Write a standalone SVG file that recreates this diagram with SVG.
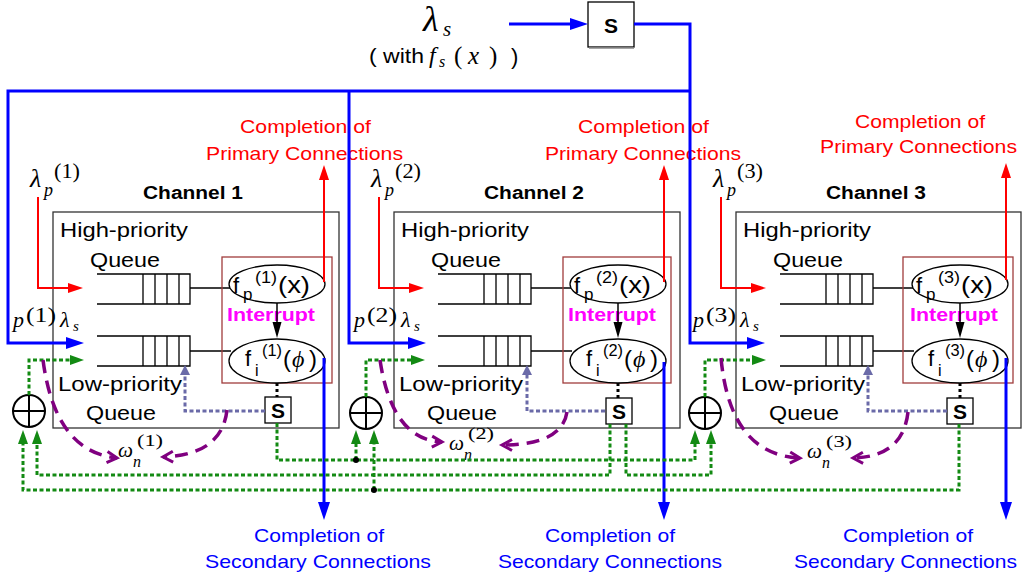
<svg xmlns="http://www.w3.org/2000/svg" width="1025" height="581" viewBox="0 0 1025 581">
<style>
.sans{font-family:"Liberation Sans",Arial,sans-serif}
.math{font-family:"Liberation Serif","DejaVu Serif",serif;font-style:italic}
.rm{font-family:"Liberation Serif","DejaVu Serif",serif}
.b{font-weight:bold}
.lbl{font-size:20px;fill:#000}
.cr{font-size:19px;fill:#ff0000}
.cb{font-size:19px;fill:#0000ff}
.chbox{fill:none;stroke:#333;stroke-width:1.3}
.srv{fill:none;stroke:#a03c3c;stroke-width:1.3}
.ell{fill:#fff;stroke:#000;stroke-width:1.3}
.q{fill:none;stroke:#000;stroke-width:1.3}
.sbox{fill:#fff;stroke:#000;stroke-width:1.3}
.bl{fill:none;stroke:#0000ff;stroke-width:3}
.rd{fill:none;stroke:#ff0000;stroke-width:2}
.gr{fill:none;stroke:#138a13;stroke-width:3;stroke-dasharray:4 2.5}
.sl{fill:none;stroke:#6a6aa8;stroke-width:3;stroke-dasharray:4 2.5}
.pu{fill:none;stroke:#800080;stroke-width:3.5;stroke-dasharray:13 8}
.bk{fill:none;stroke:#000;stroke-width:1.5}
.bkd{fill:none;stroke:#000;stroke-width:3;stroke-dasharray:3 3}
.intr{font-size:18px;font-weight:bold;fill:#ff00ff}
</style>
<defs>
<marker id="ab" markerUnits="userSpaceOnUse" markerWidth="18" markerHeight="12" refX="0" refY="6" orient="auto" overflow="visible"><path d="M0,0 L18,6 L0,12 z" fill="#0000ff"/></marker>
<marker id="ar" markerUnits="userSpaceOnUse" markerWidth="15" markerHeight="10" refX="0" refY="5" orient="auto" overflow="visible"><path d="M0,0 L15,5 L0,10 z" fill="#ff0000"/></marker>
<marker id="ag" markerUnits="userSpaceOnUse" markerWidth="14" markerHeight="10" refX="0" refY="5" orient="auto" overflow="visible"><path d="M0,0 L14,5 L0,10 z" fill="#138a13"/></marker>
<marker id="as" markerUnits="userSpaceOnUse" markerWidth="10" markerHeight="10" refX="0" refY="5" orient="auto" overflow="visible"><path d="M0,0 L10,5 L0,10 z" fill="#6a6aa8"/></marker>
<marker id="ak" markerUnits="userSpaceOnUse" markerWidth="16" markerHeight="10" refX="0" refY="5" orient="auto" overflow="visible"><path d="M0,0.5 L16,5 L0,9.5 z" fill="#000"/></marker>
<marker id="ap" markerUnits="userSpaceOnUse" markerWidth="14" markerHeight="14" refX="11" refY="6" orient="auto" overflow="visible"><path d="M1,0.5 L11,6 L1,11.5" fill="none" stroke="#800080" stroke-width="3" stroke-dasharray="none"/></marker>
</defs>
<rect width="1025" height="581" fill="#fff"/>

<!-- Source -->
<g id="source">
<text class="math" x="423" y="31" font-size="36">λ</text>
<text class="math" x="443" y="36" font-size="21">s</text>
<text class="sans" x="369" y="63" font-size="21" textLength="55" lengthAdjust="spacingAndGlyphs">( with</text>
<text class="math" x="429" y="63" font-size="24">f</text>
<text class="math" x="439" y="67" font-size="16">s</text>
<text class="rm" x="454" y="64" font-size="25">(</text>
<text class="math" x="468" y="64" font-size="25">x</text>
<text class="rm" x="489" y="64" font-size="25">)</text>
<text class="sans" x="511" y="64" font-size="22">)</text>
</g>
<g id="splitter">
<rect class="sbox" x="588" y="2" width="46" height="45"/>
<line x1="589" y1="48" x2="634" y2="48" stroke="#888" stroke-width="1.5"/>
<text class="sans b" x="611" y="33" font-size="21" text-anchor="middle">S</text>
</g>

<!-- Channel 1 -->
<g id="channel-1">
<rect class="chbox" x="53" y="212" width="286" height="216"/>
<text class="sans b" x="143" y="199" font-size="18" textLength="100" lengthAdjust="spacingAndGlyphs">Channel 1</text>
<text class="sans lbl" x="60" y="237" textLength="128" lengthAdjust="spacingAndGlyphs">High-priority</text>
<text class="sans lbl" x="90" y="267" textLength="70" lengthAdjust="spacingAndGlyphs">Queue</text>
<text class="sans lbl" x="58" y="391" textLength="124" lengthAdjust="spacingAndGlyphs">Low-priority</text>
<text class="sans lbl" x="86" y="420" textLength="70" lengthAdjust="spacingAndGlyphs">Queue</text>
<path class="q" d="M97,274 H190 V304 H97 M143,274 V304 M155,274 V304 M167,274 V304 M179,274 V304"/>
<path class="q" d="M97,336 H190 V366 H97 M143,336 V366 M155,336 V366 M167,336 V366 M179,336 V366"/>
<path class="q" d="M190,288 H230 M190,351 H231"/>
<rect class="srv" x="222" y="257" width="110" height="126"/>
<ellipse class="ell" cx="277" cy="284" rx="48" ry="19"/>
<ellipse class="ell" cx="277" cy="361" rx="48" ry="22"/>
<text class="sans" x="233" y="293" font-size="22">f</text>
<text class="sans" x="243" y="300" font-size="17">p</text>
<text class="sans" x="255" y="283" font-size="16" textLength="22" lengthAdjust="spacingAndGlyphs">(1)</text>
<text class="sans" x="278" y="293" font-size="24" textLength="32" lengthAdjust="spacingAndGlyphs">(x)</text>
<text class="sans" x="245" y="366" font-size="22">f</text>
<text class="sans" x="255" y="376" font-size="16">i</text>
<text class="sans" x="262" y="356" font-size="16" textLength="20" lengthAdjust="spacingAndGlyphs">(1)</text>
<text class="sans" x="283" y="367" font-size="24">(</text>
<text class="math" x="292" y="367" font-size="24">ϕ</text>
<text class="sans" x="309" y="367" font-size="24">)</text>
<text class="sans intr" x="227" y="321" textLength="88" lengthAdjust="spacingAndGlyphs">Interrupt</text>
<rect class="sbox" x="265" y="397" width="26" height="26"/>
<text class="sans b" x="278" y="418" font-size="21" text-anchor="middle">S</text>
<text class="math" x="30" y="187" font-size="26">λ</text>
<text class="math" x="44" y="196" font-size="18">p</text>
<text class="rm" x="54" y="178" font-size="20" textLength="26" lengthAdjust="spacingAndGlyphs">(1)</text>
<text class="math" x="13" y="327" font-size="22">p</text>
<text class="rm" x="26" y="322" font-size="20" textLength="30" lengthAdjust="spacingAndGlyphs">(1)</text>
<text class="math" x="60" y="327" font-size="22">λ</text>
<text class="math" x="73" y="331" font-size="15">s</text>
</g>

<!-- Channel 2 -->
<g id="channel-2" transform="translate(341,0)">
<rect class="chbox" x="53" y="212" width="286" height="216"/>
<text class="sans b" x="143" y="199" font-size="18" textLength="100" lengthAdjust="spacingAndGlyphs">Channel 2</text>
<text class="sans lbl" x="60" y="237" textLength="128" lengthAdjust="spacingAndGlyphs">High-priority</text>
<text class="sans lbl" x="90" y="267" textLength="70" lengthAdjust="spacingAndGlyphs">Queue</text>
<text class="sans lbl" x="58" y="391" textLength="124" lengthAdjust="spacingAndGlyphs">Low-priority</text>
<text class="sans lbl" x="86" y="420" textLength="70" lengthAdjust="spacingAndGlyphs">Queue</text>
<path class="q" d="M97,274 H190 V304 H97 M143,274 V304 M155,274 V304 M167,274 V304 M179,274 V304"/>
<path class="q" d="M97,336 H190 V366 H97 M143,336 V366 M155,336 V366 M167,336 V366 M179,336 V366"/>
<path class="q" d="M190,288 H230 M190,351 H231"/>
<rect class="srv" x="222" y="257" width="108" height="126"/>
<ellipse class="ell" cx="277" cy="284" rx="48" ry="19"/>
<ellipse class="ell" cx="277" cy="361" rx="48" ry="22"/>
<text class="sans" x="233" y="293" font-size="22">f</text>
<text class="sans" x="243" y="300" font-size="17">p</text>
<text class="sans" x="255" y="283" font-size="16" textLength="22" lengthAdjust="spacingAndGlyphs">(2)</text>
<text class="sans" x="278" y="293" font-size="24" textLength="32" lengthAdjust="spacingAndGlyphs">(x)</text>
<text class="sans" x="245" y="366" font-size="22">f</text>
<text class="sans" x="255" y="376" font-size="16">i</text>
<text class="sans" x="262" y="356" font-size="16" textLength="20" lengthAdjust="spacingAndGlyphs">(2)</text>
<text class="sans" x="283" y="367" font-size="24">(</text>
<text class="math" x="292" y="367" font-size="24">ϕ</text>
<text class="sans" x="309" y="367" font-size="24">)</text>
<text class="sans intr" x="227" y="321" textLength="88" lengthAdjust="spacingAndGlyphs">Interrupt</text>
<rect class="sbox" x="265" y="398" width="26" height="26"/>
<text class="sans b" x="278" y="419" font-size="21" text-anchor="middle">S</text>
<text class="math" x="30" y="187" font-size="26">λ</text>
<text class="math" x="44" y="196" font-size="18">p</text>
<text class="rm" x="54" y="178" font-size="20" textLength="26" lengthAdjust="spacingAndGlyphs">(2)</text>
<text class="math" x="13" y="327" font-size="22">p</text>
<text class="rm" x="26" y="322" font-size="20" textLength="30" lengthAdjust="spacingAndGlyphs">(2)</text>
<text class="math" x="60" y="327" font-size="22">λ</text>
<text class="math" x="73" y="331" font-size="15">s</text>
</g>

<!-- Channel 3 -->
<g id="channel-3" transform="translate(683,0)">
<rect class="chbox" x="53" y="212" width="285" height="216"/>
<text class="sans b" x="143" y="199" font-size="18" textLength="100" lengthAdjust="spacingAndGlyphs">Channel 3</text>
<text class="sans lbl" x="60" y="237" textLength="128" lengthAdjust="spacingAndGlyphs">High-priority</text>
<text class="sans lbl" x="90" y="267" textLength="70" lengthAdjust="spacingAndGlyphs">Queue</text>
<text class="sans lbl" x="58" y="391" textLength="124" lengthAdjust="spacingAndGlyphs">Low-priority</text>
<text class="sans lbl" x="86" y="420" textLength="70" lengthAdjust="spacingAndGlyphs">Queue</text>
<path class="q" d="M97,274 H190 V304 H97 M143,274 V304 M155,274 V304 M167,274 V304 M179,274 V304"/>
<path class="q" d="M97,336 H190 V366 H97 M143,336 V366 M155,336 V366 M167,336 V366 M179,336 V366"/>
<path class="q" d="M190,288 H230 M190,351 H231"/>
<rect class="srv" x="220" y="257" width="110" height="126"/>
<ellipse class="ell" cx="277" cy="284" rx="48" ry="19"/>
<ellipse class="ell" cx="277" cy="361" rx="48" ry="22"/>
<text class="sans" x="233" y="293" font-size="22">f</text>
<text class="sans" x="243" y="300" font-size="17">p</text>
<text class="sans" x="255" y="283" font-size="16" textLength="22" lengthAdjust="spacingAndGlyphs">(3)</text>
<text class="sans" x="278" y="293" font-size="24" textLength="32" lengthAdjust="spacingAndGlyphs">(x)</text>
<text class="sans" x="245" y="366" font-size="22">f</text>
<text class="sans" x="255" y="376" font-size="16">i</text>
<text class="sans" x="262" y="356" font-size="16" textLength="20" lengthAdjust="spacingAndGlyphs">(3)</text>
<text class="sans" x="283" y="367" font-size="24">(</text>
<text class="math" x="292" y="367" font-size="24">ϕ</text>
<text class="sans" x="309" y="367" font-size="24">)</text>
<text class="sans intr" x="227" y="321" textLength="88" lengthAdjust="spacingAndGlyphs">Interrupt</text>
<rect class="sbox" x="264" y="398" width="26" height="26"/>
<text class="sans b" x="277" y="419" font-size="21" text-anchor="middle">S</text>
<text class="math" x="30" y="187" font-size="26">λ</text>
<text class="math" x="44" y="196" font-size="18">p</text>
<text class="rm" x="54" y="178" font-size="20" textLength="26" lengthAdjust="spacingAndGlyphs">(3)</text>
<text class="math" x="10" y="327" font-size="22">p</text>
<text class="rm" x="23" y="322" font-size="20" textLength="30" lengthAdjust="spacingAndGlyphs">(3)</text>
<text class="math" x="57" y="327" font-size="22">λ</text>
<text class="math" x="70" y="331" font-size="15">s</text>
</g>

<!-- Adders -->
<g id="adder-1"><circle cx="29" cy="411" r="16" fill="#fff" stroke="#000" stroke-width="2"/><path d="M13,411 H45 M29,395 V427" stroke="#000" stroke-width="2"/></g>
<g id="adder-2"><circle cx="366" cy="413" r="16" fill="#fff" stroke="#000" stroke-width="2"/><path d="M350,413 H382 M366,397 V429" stroke="#000" stroke-width="2"/></g>
<g id="adder-3"><circle cx="705" cy="413" r="16" fill="#fff" stroke="#000" stroke-width="2"/><path d="M689,413 H721 M705,397 V429" stroke="#000" stroke-width="2"/></g>

<!-- Completion labels -->
<g id="primary-completion-labels" class="sans">
<text class="cr" x="240" y="133" textLength="131" lengthAdjust="spacingAndGlyphs">Completion of</text>
<text class="cr" x="206" y="160" textLength="197" lengthAdjust="spacingAndGlyphs">Primary Connections</text>
<text class="cr" x="578" y="133" textLength="131" lengthAdjust="spacingAndGlyphs">Completion of</text>
<text class="cr" x="545" y="160" textLength="196" lengthAdjust="spacingAndGlyphs">Primary Connections</text>
<text class="cr" x="855" y="128" textLength="130" lengthAdjust="spacingAndGlyphs">Completion of</text>
<text class="cr" x="820" y="153" textLength="197" lengthAdjust="spacingAndGlyphs">Primary Connections</text>
</g>
<g id="secondary-completion-labels" class="sans">
<text class="cb" x="254" y="542" textLength="130" lengthAdjust="spacingAndGlyphs">Completion of</text>
<text class="cb" x="205" y="568" textLength="226" lengthAdjust="spacingAndGlyphs">Secondary Connections</text>
<text class="cb" x="545" y="542" textLength="130" lengthAdjust="spacingAndGlyphs">Completion of</text>
<text class="cb" x="498" y="568" textLength="224" lengthAdjust="spacingAndGlyphs">Secondary Connections</text>
<text class="cb" x="843" y="542" textLength="130" lengthAdjust="spacingAndGlyphs">Completion of</text>
<text class="cb" x="794" y="568" textLength="223" lengthAdjust="spacingAndGlyphs">Secondary Connections</text>
</g>

<!-- Omega labels -->
<g id="omega-labels">
<text class="math" x="118" y="457" font-size="20" textLength="15" lengthAdjust="spacingAndGlyphs">ω</text>
<text class="math" x="133" y="467" font-size="16">n</text>
<text class="rm" x="137" y="446" font-size="17" textLength="26" lengthAdjust="spacingAndGlyphs">(1)</text>
<text class="math" x="449" y="450" font-size="20" textLength="15" lengthAdjust="spacingAndGlyphs">ω</text>
<text class="math" x="464" y="460" font-size="16">n</text>
<text class="rm" x="468" y="439" font-size="17" textLength="26" lengthAdjust="spacingAndGlyphs">(2)</text>
<text class="math" x="807" y="458" font-size="20" textLength="15" lengthAdjust="spacingAndGlyphs">ω</text>
<text class="math" x="822" y="468" font-size="16">n</text>
<text class="rm" x="826" y="447" font-size="17" textLength="26" lengthAdjust="spacingAndGlyphs">(3)</text>
</g>

<!-- Connectors -->
<g id="connectors">
<path class="bl" d="M509,24 H570" marker-end="url(#ab)"/>
<path class="bl" d="M634,24 H690 V343 H747" marker-end="url(#ab)"/>
<path class="bl" d="M690,91 H8 V343 H66" marker-end="url(#ab)"/>
<path class="bl" d="M349,91 V343 H408" marker-end="url(#ab)"/>
<g id="ch1-links">
<path class="rd" d="M38,197 V288 H68" marker-end="url(#ar)"/>
<path class="rd" d="M324,282 V180" marker-end="url(#ar)"/>
<path class="bl" d="M324,358 V502" marker-end="url(#ab)"/>
<path class="bk" d="M277,303 V322" marker-end="url(#ak)"/>
<path class="bkd" d="M277,383 V397"/>
<path class="sl" d="M265,411 H185 V375" marker-end="url(#as)"/>
</g>
<g id="ch2-links" transform="translate(341,0)">
<path class="rd" d="M38,197 V288 H68" marker-end="url(#ar)"/>
<path class="rd" d="M323,282 V180" marker-end="url(#ar)"/>
<path class="bl" d="M323,362 V502" marker-end="url(#ab)"/>
<path class="bk" d="M277,303 V322" marker-end="url(#ak)"/>
<path class="bkd" d="M277,383 V398"/>
<path class="sl" d="M264,411 H186 V375" marker-end="url(#as)"/>
</g>
<g id="ch3-links" transform="translate(683,0)">
<path class="rd" d="M38,197 V288 H68" marker-end="url(#ar)"/>
<path class="rd" d="M323,280 V178" marker-end="url(#ar)"/>
<path class="bl" d="M323,358 V502" marker-end="url(#ab)"/>
<path class="bk" d="M277,303 V322" marker-end="url(#ak)"/>
<path class="bkd" d="M277,383 V398"/>
<path class="sl" d="M264,411 H185 V375" marker-end="url(#as)"/>
</g>
<path class="gr" d="M29,395 V360 H70" marker-end="url(#ag)"/>
<path class="gr" d="M366,397 V360 H411" marker-end="url(#ag)"/>
<path class="gr" d="M705,397 V360 H752" marker-end="url(#ag)"/>
<path class="gr" d="M277,423 V460 H695 V444" marker-end="url(#ag)"/>
<path class="gr" d="M356,460 V444" marker-end="url(#ag)"/>
<path class="gr" d="M610,424 V475 H37 V444" marker-end="url(#ag)"/>
<path class="gr" d="M626,424 V475 H711 V444" marker-end="url(#ag)"/>
<path class="gr" d="M959,424 V490 H23 V444" marker-end="url(#ag)"/>
<path class="gr" d="M374,490 V444" marker-end="url(#ag)"/>
<circle cx="356" cy="460" r="3" fill="#000"/>
<circle cx="374" cy="490" r="3" fill="#000"/>
<path class="pu" d="M43,360 Q55,452 117,458" marker-end="url(#ap)"/>
<path class="pu" d="M227,410 Q222,455 163,457" marker-end="url(#ap)"/>
<path class="pu" d="M380,360 Q392,440 442,442" marker-end="url(#ap)"/>
<path class="pu" d="M567,412 Q562,445 502,445" marker-end="url(#ap)"/>
<path class="pu" d="M721,358 Q730,455 800,458" marker-end="url(#ap)"/>
<path class="pu" d="M908,412 Q903,457 853,458" marker-end="url(#ap)"/>
</g>
</svg>
